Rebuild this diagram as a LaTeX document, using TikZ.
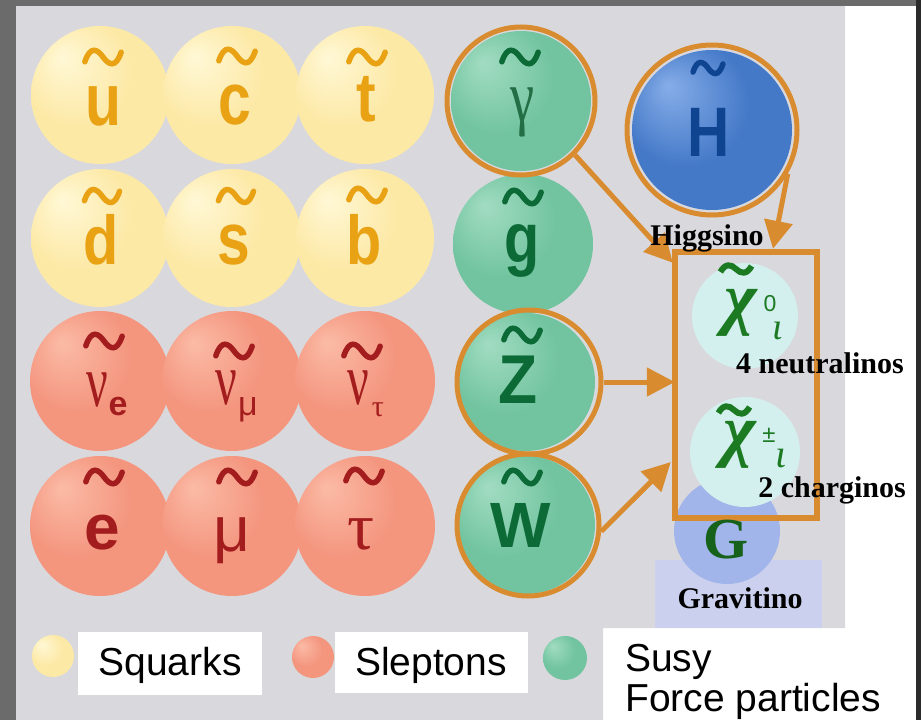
\documentclass[tikz,border=0pt]{standalone}
\usepackage{fontspec}
\setmainfont{Liberation Serif}
\setsansfont{Liberation Sans}
\usetikzlibrary{arrows.meta,calc}
\definecolor{frame}{HTML}{6B6B6B}
\definecolor{frameR}{HTML}{2B2B2B}
\definecolor{panel}{HTML}{D9D9DD}
\definecolor{yhi}{HTML}{FFF8D6}
\definecolor{ybase}{HTML}{FDE9A6}
\definecolor{yedge}{HTML}{F6D68C}
\definecolor{ylet}{HTML}{E8A214}
\definecolor{rhi}{HTML}{FBBBA6}
\definecolor{rbase}{HTML}{F4957E}
\definecolor{redge}{HTML}{EA7C68}
\definecolor{rlet}{HTML}{A41D1E}
\definecolor{ghi}{HTML}{A2DCC2}
\definecolor{gbase}{HTML}{72C4A0}
\definecolor{gedge}{HTML}{56AC88}
\definecolor{glet}{HTML}{0C6A36}
\definecolor{bhi}{HTML}{86ADE8}
\definecolor{bbase}{HTML}{4479C8}
\definecolor{bedge}{HTML}{2C5AAA}
\definecolor{blet}{HTML}{0E4490}
\definecolor{ring}{HTML}{D98B30}
\definecolor{chicyan}{HTML}{D3EFEE}
\definecolor{chigreen}{HTML}{1B7A22}
\definecolor{gravblue}{HTML}{A2B5EA}
\definecolor{lav}{HTML}{CAD0EE}
\pgfdeclareradialshading{ysph}{\pgfpoint{-14bp}{14bp}}{color(0bp)=(yhi); color(20bp)=(ybase); color(44bp)=(ybase); color(50bp)=(yedge)}
\pgfdeclareradialshading{rsph}{\pgfpoint{-14bp}{14bp}}{color(0bp)=(rhi); color(20bp)=(rbase); color(44bp)=(rbase); color(50bp)=(redge)}
\pgfdeclareradialshading{gsph}{\pgfpoint{-14bp}{14bp}}{color(0bp)=(ghi); color(20bp)=(gbase); color(44bp)=(gbase); color(50bp)=(gedge)}
\pgfdeclareradialshading{bsph}{\pgfpoint{-14bp}{14bp}}{color(0bp)=(bhi); color(20bp)=(bbase); color(44bp)=(bbase); color(50bp)=(bedge)}
\newcommand\tld[4]{\draw[line width=5.5pt, line cap=round, draw=#3, shift={(#1,#2)}, scale=#4] (-13,3.5) .. controls (-9,-8.5) and (-4,-5.5) .. (0,0) .. controls (4,5.5) and (9,8.5) .. (13,-3.5);}
\newcommand\sqz[3]{\scalebox{#1}[#2]{#3}}
\begin{document}
\begin{tikzpicture}[x=1pt,y=-1pt,
  sphY/.style={circle, inner sep=0pt, minimum size=#1, shading=ysph},
  sphR/.style={circle, inner sep=0pt, minimum size=#1, shading=rsph},
  sphG/.style={circle, inner sep=0pt, minimum size=#1, shading=gsph},
  sphB/.style={circle, inner sep=0pt, minimum size=#1, shading=bsph},
  ringc/.style={circle, inner sep=0pt, draw=ring, line width=5pt, minimum size=#1},
  let/.style={inner sep=0pt, font=\sffamily\bfseries\fontsize{64}{64}\selectfont},
  grk/.style={inner sep=0pt, font=\rmfamily\fontsize{64}{64}\selectfont},
  chi/.style={inner sep=0pt, text=chigreen, font=\rmfamily\bfseries\itshape\fontsize{70}{70}\selectfont},
  lab/.style={inner sep=0pt, text=black, font=\rmfamily\bfseries\fontsize{30}{30}\selectfont},
  legtxt/.style={inner sep=0pt, text=black, font=\sffamily\fontsize{39}{42}\selectfont},
  legbox/.style={fill=white, inner sep=0pt},
  arr/.style={draw=ring, line width=5pt, -{Triangle[length=28pt,width=28pt]}}
]
\useasboundingbox (0,0) rectangle (921,720);
% frame and panels
\fill[frame] (0,0) rectangle (921,720);
\fill[frameR] (916,0) rectangle (921,720);
\fill[white] (16,6) rectangle (916,720);
\fill[panel] (16,6) -- (845,6) -- (845,628) -- (603,628) -- (603,720) -- (16,720) -- cycle;
\fill[lav] (655,560) rectangle (822,628);
% yellow squarks
\node[sphY=138pt] (su) at (100,95) {};
\node[sphY=138pt] (sc) at (232,95) {};
\node[sphY=138pt] (st) at (365,95) {};
\node[sphY=138pt] (sd) at (100,238) {};
\node[sphY=138pt] (ss) at (232,238) {};
\node[sphY=138pt] (sb) at (365,238) {};
% red sleptons
\node[sphR=140pt] (snue) at (100,381) {};
\node[sphR=140pt] (snum) at (232,381) {};
\node[sphR=140pt] (snut) at (365,381) {};
\node[sphR=140pt] (se) at (100,526) {};
\node[sphR=140pt] (smu) at (232,526) {};
\node[sphR=140pt] (stau) at (365,526) {};
% green
\node[sphG=140pt] (sgam) at (521,101) {};
\node[sphG=140pt] (sg) at (523,244) {};
\node[sphG=138pt] (sZ) at (526,382) {};
\node[sphG=138pt] (sW) at (526,525) {};
\node[ringc=148pt] (gring) at (521,101) {};
\node[ringc=144pt] (zring) at (529,382) {};
\node[ringc=142pt] (wring) at (528,525) {};
% Higgsino
\node[sphB=160pt] (sH) at (712,130) {};
\node[ringc=170pt] (hring) at (712,130) {};
% neutralino / chargino / gravitino area
\node[circle, fill=gravblue, minimum size=106pt, inner sep=0pt] (sG) at (727,531) {};
\node[circle, fill=chicyan, minimum size=106pt, inner sep=0pt] (cz) at (745,316) {};
\node[circle, fill=chicyan, minimum size=110pt, inner sep=0pt] (cc) at (745,452) {};
% arrows
\node[minimum width=142pt, minimum height=266pt, inner sep=0pt] (box) at (746,385) {};
\draw[arr] (gring.-45) -- ($(box.north west)+(-2,11)$);
\draw[arr] (hring.-30) -- ($(box.north)+(27,-3)$);
\draw[arr] (zring.east) -- (zring.east -| box.west);
\draw[arr] (wring.-5) -- ($(box.west)+(-4,77)$);
\draw[draw=ring, line width=5.5pt] (box.north west) rectangle (box.south east);
% letters squarks
\node[let, text=ylet] (lu) at (103,106) {\sqz{0.92}{1.15}{u}};
\node[let, text=ylet] (lc) at (235,105) {\sqz{0.92}{1.15}{c}};
\node[let, text=ylet] (lt) at (366,99) {\sqz{0.92}{1.08}{t}};
\node[let, text=ylet] (ld) at (101,240) {\sqz{0.9}{1.08}{d}};
\node[let, text=ylet] (ls) at (234,245) {\sqz{0.92}{1.15}{s}};
\node[let, text=ylet] (lb) at (364,240) {\sqz{0.9}{1.08}{b}};
\tld{103}{57}{ylet}{1.4}
\tld{237}{56}{ylet}{1.4}
\tld{367}{57}{ylet}{1.4}
\tld{102}{196}{ylet}{1.35}
\tld{236}{196}{ylet}{1.35}
\tld{367}{195}{ylet}{1.4}
% sleptons
\node[grk, text=rlet] (lnue) at (97,390) {\sqz{0.75}{1.15}{ν}};
\node[let, text=rlet, font=\sffamily\bfseries\fontsize{34}{34}\selectfont] (lnues) at (118,407) {e};
\node[grk, text=rlet] (lnum) at (226,388) {\sqz{0.75}{1.15}{ν}};
\node[let, text=rlet, font=\sffamily\fontsize{34}{34}\selectfont] (lnums) at (248,410) {μ};
\node[grk, text=rlet] (lnut) at (358,388) {\sqz{0.75}{1.15}{ν}};
\node[grk, text=rlet, font=\rmfamily\fontsize{30}{30}\selectfont] (lnuts) at (378,410) {τ};
\node[let, text=rlet] (le) at (102,533) {e};
\node[grk, text=rlet, font=\sffamily\fontsize{64}{64}\selectfont] (lmu) at (232,541) {μ};
\node[grk, text=rlet] (ltau) at (361,534) {\sqz{1.05}{1.05}{τ}};
\tld{104}{341}{rlet}{1.4}
\tld{234}{351}{rlet}{1.4}
\tld{362}{351}{rlet}{1.4}
\tld{104}{477}{rlet}{1.4}
\tld{237}{477}{rlet}{1.4}
\tld{364}{476}{rlet}{1.4}
% gauginos
\node[grk, text=glet!80!gray] (lgam) at (523,112) {\sqz{0.85}{1.15}{γ}};
\node[let, text=glet] (lg) at (522,251) {\sqz{0.9}{1.1}{g}};
\node[let, text=glet] (lZ) at (518,380) {\sqz{1}{1.08}{Z}};
\node[let, text=glet] (lW) at (521,525) {W};
\tld{520}{57}{glet}{1.4}
\tld{523}{197}{glet}{1.4}
\tld{522}{335}{glet}{1.4}
\tld{522}{477}{glet}{1.4}
% Higgsino letter
\node[let, text=blet, font=\sffamily\bfseries\fontsize{68}{68}\selectfont] (lH) at (709,132) {\sqz{0.86}{1.03}{H}};
\tld{708}{68}{blet}{1.15}
% chis
\node[chi] (chi0) at (741,313) {χ};
\node[inner sep=0pt, text=chigreen, font=\sffamily\fontsize{23}{23}\selectfont] (chi0s) at (770,304) {0};
\node[inner sep=0pt, text=chigreen, font=\rmfamily\itshape\fontsize{38}{38}\selectfont] (chi0i) at (778,331) {ι};
\draw[line width=6pt, draw=chigreen, shift={(736,269)}, scale=1.2] (-13,2.5) .. controls (-9,-5) and (-4,-4) .. (0,0) .. controls (4,4) and (9,5) .. (13,-2.5);
\node[chi] (chipm) at (740,445) {χ};
\node[inner sep=0pt, text=chigreen, font=\sffamily\fontsize{24}{24}\selectfont] (chipms) at (769,435) {±};
\node[inner sep=0pt, text=chigreen, font=\rmfamily\itshape\fontsize{40}{40}\selectfont] (chipmi) at (781,459) {ι};
\draw[line width=6pt, draw=chigreen, shift={(734,410)}, scale=1.2] (-13,2.5) .. controls (-9,-5) and (-4,-4) .. (0,0) .. controls (4,4) and (9,5) .. (13,-2.5);
\node[inner sep=0pt, text=chigreen!80!black, font=\rmfamily\bfseries\fontsize{58}{58}\selectfont] (lG) at (726,540) {G};
% labels
\node[lab, anchor=base] (tHig) at (707,245) {Higgsino};
\node[lab, anchor=base] (tneu) at (820,373) {4 neutralinos};
\node[lab, anchor=base] (tcha) at (832,497) {2 charginos};
\node[lab, anchor=base] (tgra) at (740,608) {Gravitino};
% legend
\node[sphY=42pt] (legy) at (53,656) {};
\node[legbox, minimum width=184pt, minimum height=63pt] (boxsq) at (170,663.5) {};
\node[legtxt, anchor=base] (tsq) at (170,675) {Squarks};
\node[sphR=42pt] (legr) at (313,657) {};
\node[legbox, minimum width=193pt, minimum height=61pt] (boxsl) at (431.5,662.5) {};
\node[legtxt, anchor=base] (tsl) at (431,675) {Sleptons};
\node[sphG=44pt] (legg) at (565,658) {};
\node[legtxt, anchor=base west] (tsusy) at (625,671) {Susy};
\node[legtxt, anchor=base west] (tforce) at (625,711) {Force particles};
\end{tikzpicture}
\end{document}
